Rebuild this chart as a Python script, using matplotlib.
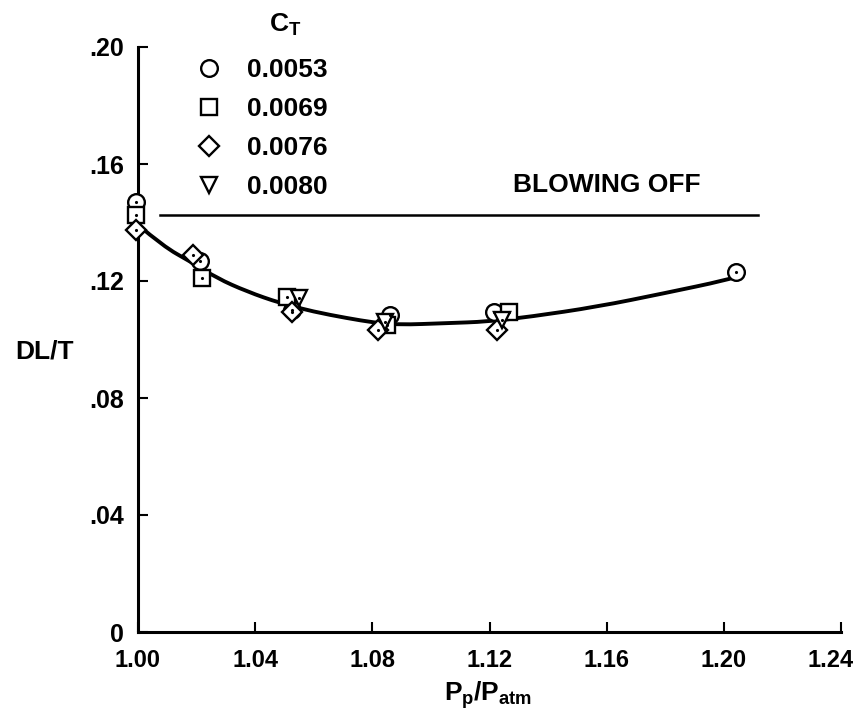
import matplotlib
matplotlib.use("Agg")
import matplotlib.pyplot as plt
import matplotlib.transforms as mtrans
from matplotlib.lines import Line2D
from matplotlib.path import Path
from matplotlib.patches import PathPatch

plt.rcParams['font.family'] = ['Liberation Sans', 'DejaVu Sans']
plt.rcParams['font.weight'] = 'bold'
plt.rcParams['mathtext.fontset'] = 'custom'
plt.rcParams['mathtext.rm'] = 'Liberation Sans:bold'
plt.rcParams['mathtext.it'] = 'Liberation Sans:bold'
plt.rcParams['mathtext.bf'] = 'Liberation Sans:bold'

# C_T series
ct_labels = ['0.0053', '0.0069', '0.0076', '0.0080']
ct_markers = ['o', 's', 'D', 'v']

x_0053 = [0.9993, 1.021, 1.0526, 1.0862, 1.1214, 1.2041]
y_0053 = [0.147, 0.127, 0.110, 0.1084, 0.1095, 0.123]
x_0069 = [0.9993, 1.0218, 1.0508, 1.085, 1.1265]
y_0069 = [0.1426, 0.121, 0.1147, 0.105, 0.1095]
x_0076 = [0.9993, 1.0187, 1.0526, 1.082, 1.1226]
y_0076 = [0.1375, 0.129, 0.1095, 0.1033, 0.1033]
x_0080 = [1.0548, 1.0844, 1.1243]
y_0080 = [0.1141, 0.106, 0.1067]

# faired curve through the data
curve_x = [1.0, 1.0087, 1.0178, 1.0269, 1.0372, 1.0486, 1.06, 1.0714, 1.0805,
           1.0885, 1.1056, 1.1192, 1.134, 1.1568, 1.1796, 1.2013, 1.2034]
curve_y = [0.1392, 0.1318, 0.1267, 0.121, 0.1164, 0.1124, 0.1095, 0.1073, 0.1058,
           0.105, 0.1056, 0.1061, 0.1078, 0.1112, 0.1158, 0.1204, 0.1212]

# blowing off level
blow_off = 0.1426
blow_x = [1.0075, 1.2117]

xticks = [1.00, 1.04, 1.08, 1.12, 1.16, 1.20, 1.24]
xtick_labels = ['1.00', '1.04', '1.08', '1.12', '1.16', '1.20', '1.24']
yticks = [0, 0.04, 0.08, 0.12, 0.16, 0.20]
ytick_labels = ['0', '.04', '.08', '.12', '.16', '.20']

fig = plt.figure(figsize=(8.62, 7.17), dpi=100)
ax = fig.add_axes([138 / 862, 1 - 632 / 717, (841 - 138) / 862, (632 - 47) / 717])

# smooth faired line: quadratic bezier pieces through the read points
pts = list(zip(curve_x, curve_y))
verts = [pts[0]]
codes = [Path.MOVETO]
for i in range(1, len(pts) - 2):
    mid = ((pts[i][0] + pts[i + 1][0]) / 2, (pts[i][1] + pts[i + 1][1]) / 2)
    verts += [pts[i], mid]
    codes += [Path.CURVE3, Path.CURVE3]
verts += [pts[-2], pts[-1]]
codes += [Path.CURVE3, Path.CURVE3]
ax.add_patch(PathPatch(Path(verts, codes), fill=False, ec='black', lw=2.8,
                       capstyle='round', zorder=2))
ax.plot(blow_x, [blow_off, blow_off], color='black', lw=1.8, zorder=2)

series = [(x_0053, y_0053), (x_0069, y_0069), (x_0076, y_0076), (x_0080, y_0080)]
sizes = [12, 11.5, 10, 12]
for (xs, ys), m, s in zip(series, ct_markers, sizes):
    ax.plot(xs, ys, ls='none', marker=m, ms=s, mfc='white', mec='black', mew=1.7,
            clip_on=False, zorder=3)
    ax.plot(xs, ys, ls='none', marker='.', ms=2.5, color='black', clip_on=False, zorder=4)

ax.set_xlim(1.0, 1.24)
ax.set_ylim(0, 0.20)
ax.set_xticks(xticks)
ax.set_xticklabels(xtick_labels)
ax.set_yticks(yticks)
ax.set_yticklabels(ytick_labels)
ax.tick_params(direction='in', length=7, width=1.5)
ax.tick_params(axis='y', labelsize=18, pad=10)
ax.tick_params(axis='x', labelsize=17, pad=12)
last = ax.get_xticklabels()[-1]
last.set_transform(last.get_transform() + mtrans.ScaledTranslation(-0.1, 0, fig.dpi_scale_trans))
for side in ['top', 'right']:
    ax.spines[side].set_visible(False)
for side in ['left', 'bottom']:
    ax.spines[side].set_linewidth(2.2)

ax.text(1.16, 0.1528, 'BLOWING OFF', fontsize=19, fontweight='bold', ha='center', va='center')

handles = [Line2D([], [], ls='none', marker=m, ms=s, mfc='white', mec='black', mew=1.7)
           for m, s in zip(ct_markers, sizes)]
ax.legend(handles, ct_labels, loc='upper left', bbox_to_anchor=(185 / 862, 1 - 45 / 717),
          bbox_transform=fig.transFigure, frameon=False, fontsize=19,
          handlelength=0.8, handletextpad=1.05, labelspacing=0.57, borderpad=0)

fig.text(285 / 862, 1 - 25 / 717, '$C_T$', fontsize=19, ha='center', va='center')
fig.text(15 / 862, 1 - 352 / 717, 'DL/T', fontsize=19, ha='left', va='center')
fig.text(488 / 862, 1 - 695 / 717, '$P_p/P_{atm}$', fontsize=19, ha='center', va='center')

fig.savefig('out.png', dpi=100)
